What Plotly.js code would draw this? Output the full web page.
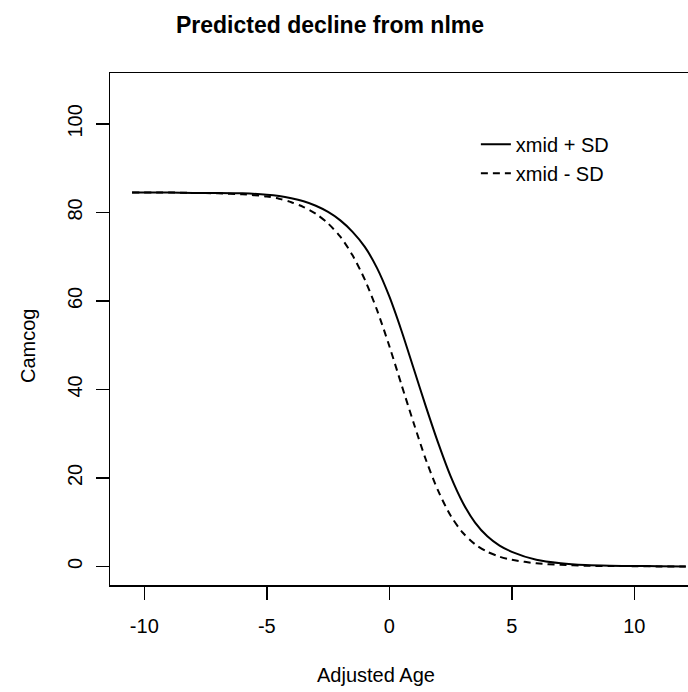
<!DOCTYPE html>
<html>
<head>
<meta charset="utf-8">
<script src="https://cdn.plot.ly/plotly-3.0.1.min.js"></script>
<style>html,body{margin:0;padding:0;background:#fff;}#chart{width:688px;height:692px;}</style>
</head>
<body>
<div id="chart"></div>
<script>
// Adjusted age values (x) at which the curves were read
const ageValues = [-10.5, -9, -8, -7, -6, -5, -4.5, -4, -3.5, -3, -2.5, -2, -1.5, -1, -0.5, 0, 0.5, 1, 1.5, 2, 2.5, 3, 3.5, 4, 4.5, 5, 6, 7, 8, 9, 10, 11, 12.1];
// Predicted Camcog, xmid + SD (solid)
const camcogPlusSD = [84.5, 84.5, 84.4, 84.4, 84.3, 84.0, 83.7, 83.2, 82.5, 81.5, 80.1, 78.2, 75.6, 72.2, 67.4, 61.0, 53.2, 44.6, 36.0, 27.8, 20.4, 14.4, 9.9, 6.8, 4.7, 3.3, 1.5, 0.7, 0.3, 0.15, 0.1, 0.05, 0.0];
// Predicted Camcog, xmid - SD (dashed)
const camcogMinusSD = [84.5, 84.5, 84.4, 84.3, 84.1, 83.6, 83.1, 82.3, 81.2, 79.7, 77.5, 74.5, 70.3, 64.8, 57.9, 49.8, 41.0, 32.3, 24.0, 17.0, 11.5, 7.6, 5.0, 3.3, 2.2, 1.5, 0.7, 0.35, 0.15, 0.1, 0.05, 0.0, 0.0];
const seriesNames = ["xmid + SD", "xmid - SD"];
const xTickValues = [-10, -5, 0, 5, 10];
const yTickValues = [0, 20, 40, 60, 80, 100];
const titleText = "Predicted decline from nlme";
const xTitle = "Adjusted Age";
const yTitle = "Camcog";

const FONT = "Liberation Sans, Arial, Helvetica, sans-serif";

const traces = [
  {x: ageValues, y: camcogPlusSD, name: seriesNames[0], type: "scatter", mode: "lines",
   line: {color: "#000", width: 2, shape: "spline", smoothing: 0.8}},
  {x: ageValues, y: camcogMinusSD, name: seriesNames[1], type: "scatter", mode: "lines",
   line: {color: "#000", width: 2, dash: "7px,5px", shape: "spline", smoothing: 0.8}}
];

const layout = {
  width: 688, height: 692,
  margin: {l: 110, r: 0, t: 73, b: 107, pad: 0},
  paper_bgcolor: "#fff", plot_bgcolor: "#fff",
  font: {family: FONT, color: "#000", size: 20},
  title: {text: "<b>" + titleText + "</b>", font: {family: FONT, size: 23, color: "#000"},
          x: 330/688, xref: "container", xanchor: "center", y: 1 - 25/692, yref: "container", yanchor: "middle"},
  xaxis: {range: [-11.40, 12.19], tickvals: xTickValues, ticktext: xTickValues.map(String),
          showgrid: false, zeroline: false, showline: true, linecolor: "#000", linewidth: 1.5, mirror: true,
          ticks: "outside", ticklen: 13, tickwidth: 1.5, tickcolor: "#000",
          tickfont: {family: FONT, size: 20, color: "#000"}, ticklabelstandoff: 9},
  yaxis: {range: [-4.2, 111.5], tickvals: yTickValues, ticktext: yTickValues.map(String), tickangle: -90,
          showgrid: false, zeroline: false, showline: true, linecolor: "#000", linewidth: 1.5, mirror: false,
          ticks: "outside", ticklen: 13, tickwidth: 1.5, tickcolor: "#000",
          tickfont: {family: FONT, size: 20, color: "#000"}, ticklabelstandoff: 6},
  showlegend: true,
  legend: {x: 0.633, y: 0.899, xanchor: "left", yanchor: "top", bgcolor: "rgba(0,0,0,0)",
           font: {family: FONT, size: 20, color: "#000"}, tracegroupgap: 0},
  annotations: [
    {text: xTitle, xref: "paper", yref: "paper", x: (376-110)/578, y: -(675-585)/512,
     xanchor: "center", yanchor: "middle", showarrow: false, font: {family: FONT, size: 20, color: "#000"}},
    {text: yTitle, xref: "paper", yref: "paper", x: -(110-28)/578, y: (585-346)/512, textangle: -90,
     xanchor: "center", yanchor: "middle", showarrow: false, font: {family: FONT, size: 20, color: "#000"}}
  ]
};

Plotly.newPlot("chart", traces, layout, {displayModeBar: false, staticPlot: true});
</script>
</body>
</html>
